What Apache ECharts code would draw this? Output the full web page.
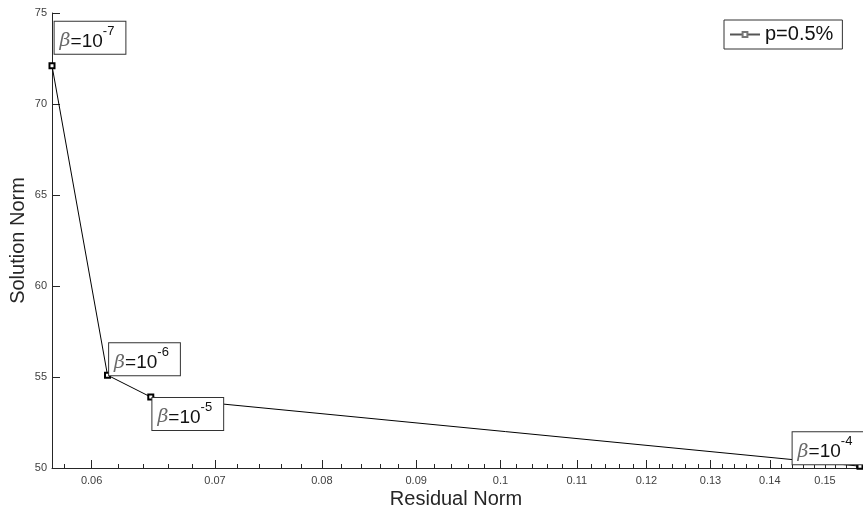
<!DOCTYPE html>
<html>
<head>
<meta charset="utf-8">
<script src="https://cdn.jsdelivr.net/npm/echarts@6/dist/echarts.min.js"></script>
<style>
  html, body { margin: 0; padding: 0; background: #fff; }
  #chart { width: 863px; height: 513px; }
</style>
</head>
<body>
<div id="chart"></div>
<script>
// L-curve: solution norm against residual norm for several regularization parameters
const residualNorm = [0.0571, 0.0612, 0.0646, 0.1567];
const solutionNorm = [72.1, 55.1, 53.9, 50.1];
const betaExponent = [-7, -6, -5, -4];
const xTickValues = [0.06, 0.07, 0.08, 0.09, 0.1, 0.11, 0.12, 0.13, 0.14, 0.15];
const yTickValues = [50, 55, 60, 65, 70, 75];
const seriesName = 'p=0.5%';

// residual norm is shown on a log10 axis
const lg = v => Math.log10(v);
const xMin = lg(residualNorm[0]);
const xMax = lg(residualNorm[residualNorm.length - 1]);

// minor ticks every 0.002 between the labelled ticks
const minorTickValues = [];
for (let k = 29; k <= 78; k++) {
  if (k % 5 !== 0) minorTickValues.push(lg(k * 0.002));
}

// where each annotation box sits relative to its point
const labelOffsets = [[38, -28], [37, -16], [37, 17], [-32, -18]];

const axisColor = '#262626';
const tickLabelColor = '#404040';
const sans = 'Liberation Sans, Arial, Helvetica, sans-serif';

const chart = echarts.init(document.getElementById('chart'), null, { renderer: 'canvas' });

const points = residualNorm.map((x, i) => ({
  value: [lg(x), solutionNorm[i]],
  label: { offset: labelOffsets[i] }
}));

chart.setOption({
  backgroundColor: '#fff',
  animation: false,
  grid: { left: 52, right: 3, top: 13, bottom: 45, outerBoundsMode: 'none', containLabel: false },
  legend: {
    left: 724, top: 20,
    orient: 'horizontal',
    padding: [4, 9, 4, 5],
    borderColor: '#333', borderWidth: 1,
    backgroundColor: '#fff',
    itemWidth: 30, itemHeight: 6,
    lineStyle: { color: '#555' },
    itemStyle: { color: '#777', borderColor: '#333', borderWidth: 1 },
    textStyle: { fontFamily: sans, fontSize: 20, color: '#111', lineHeight: 21 },
    data: [seriesName]
  },
  xAxis: [{
    type: 'value',
    min: xMin, max: xMax,
    name: 'Residual Norm',
    nameLocation: 'middle',
    nameGap: 21,
    nameMoveOverlap: false,
    nameTextStyle: { fontFamily: sans, fontSize: 20, color: axisColor },
    axisLine: { show: true, lineStyle: { color: axisColor, width: 1 } },
    axisTick: { show: true, inside: true, length: 8, customValues: xTickValues.map(lg),
                lineStyle: { color: axisColor } },
    axisLabel: {
      show: true, margin: 7, fontFamily: sans, fontSize: 11, color: tickLabelColor,
      customValues: xTickValues.map(lg),
      formatter: v => String(Number(Math.pow(10, v).toPrecision(2)))
    },
    splitLine: { show: false }
  }, {
    type: 'value',
    position: 'bottom',
    min: xMin, max: xMax,
    axisLine: { show: false },
    axisTick: { show: true, inside: true, length: 4, customValues: minorTickValues,
                lineStyle: { color: axisColor } },
    axisLabel: { show: false },
    splitLine: { show: false }
  }],
  yAxis: {
    type: 'value',
    min: yTickValues[0], max: yTickValues[yTickValues.length - 1], interval: 5,
    name: 'Solution Norm',
    nameLocation: 'middle',
    nameGap: 24,
    nameMoveOverlap: false,
    nameTextStyle: { fontFamily: sans, fontSize: 20, color: axisColor },
    axisLine: { show: true, lineStyle: { color: axisColor, width: 1 } },
    axisTick: { show: true, inside: true, length: 8, lineStyle: { color: axisColor } },
    axisLabel: { margin: 5, fontFamily: sans, fontSize: 11, color: tickLabelColor },
    splitLine: { show: false }
  },
  series: [{
    name: seriesName,
    type: 'line',
    xAxisIndex: 0,
    clip: false,
    data: points,
    symbol: 'emptyRect',
    symbolSize: 5,
    showSymbol: true,
    lineStyle: { color: '#000', width: 1 },
    itemStyle: { color: '#000', borderColor: '#000', borderWidth: 0.9 },
    label: {
      show: true,
      position: 'inside',
      align: 'center',
      verticalAlign: 'middle',
      backgroundColor: '#fff',
      borderColor: '#333',
      borderWidth: 1,
      padding: [3, 11, 3, 5],
      formatter: p => '{b|β}{t|=10}{s|' + betaExponent[p.dataIndex] + '}',
      rich: {
        b: { fontFamily: 'DejaVu Serif, serif', fontStyle: 'italic', fontSize: 19,
             color: '#6a6a6a', lineHeight: 26, verticalAlign: 'bottom' },
        t: { fontFamily: sans, fontSize: 19, color: '#111', lineHeight: 26, verticalAlign: 'bottom' },
        s: { fontFamily: sans, fontSize: 13, color: '#111', lineHeight: 14, verticalAlign: 'top' }
      }
    },
    emphasis: { disabled: true }
  }]
});
</script>
</body>
</html>
